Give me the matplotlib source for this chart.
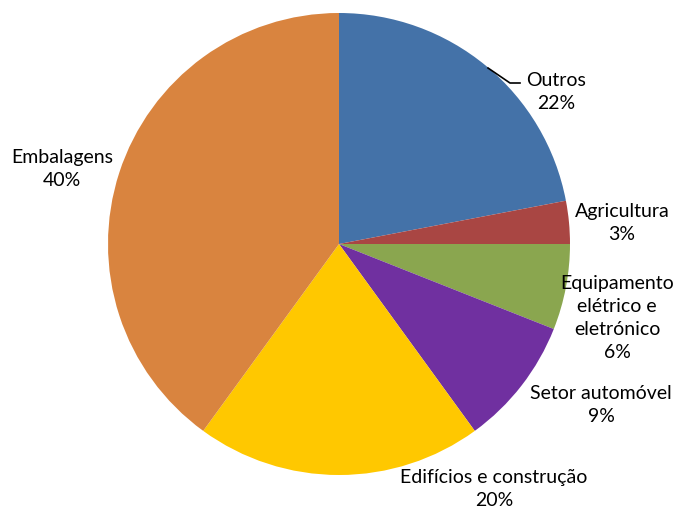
import matplotlib.pyplot as plt

# share of each sector, clockwise from the top
sectors = ["Outros", "Agricultura", "Equipamento\nelétrico e\neletrónico",
           "Setor automóvel", "Edifícios e construção", "Embalagens"]
shares = [22, 3, 6, 9, 20, 40]
colors = ["#4472A8", "#A94643", "#8AA64F", "#7030A0", "#FFC800", "#D9843F"]

# label centres in pixels (from the top left)
label_xy = [(556, 92), (622, 223), (617, 318), (601, 405), (494, 489), (62, 169)]

W, H = 679, 509
plt.rcParams['font.family'] = ['Lato', 'DejaVu Sans']

fig = plt.figure(figsize=(W / 100, H / 100), dpi=100)
ax = fig.add_axes([0, 0, 1, 1])

ax.pie(shares, colors=colors, startangle=90, counterclock=False,
       center=(339, H - 244), radius=231, frame=True,
       wedgeprops=dict(linewidth=0))
ax.set_xlim(0, W)
ax.set_ylim(0, H)
ax.set_aspect('equal')
ax.axis('off')

for name, val, (x, y) in zip(sectors, shares, label_xy):
    ax.text(x, H - y, f"{name}\n{val}%", ha='center', va='center',
            multialignment='center', fontsize=14, linespacing=1.45,
            color='#000000')

# leader line for Outros
ax.plot([488, 510, 520], [H - 68, H - 83, H - 83], color='black', lw=1.2)

fig.savefig("out.png", dpi=100)
